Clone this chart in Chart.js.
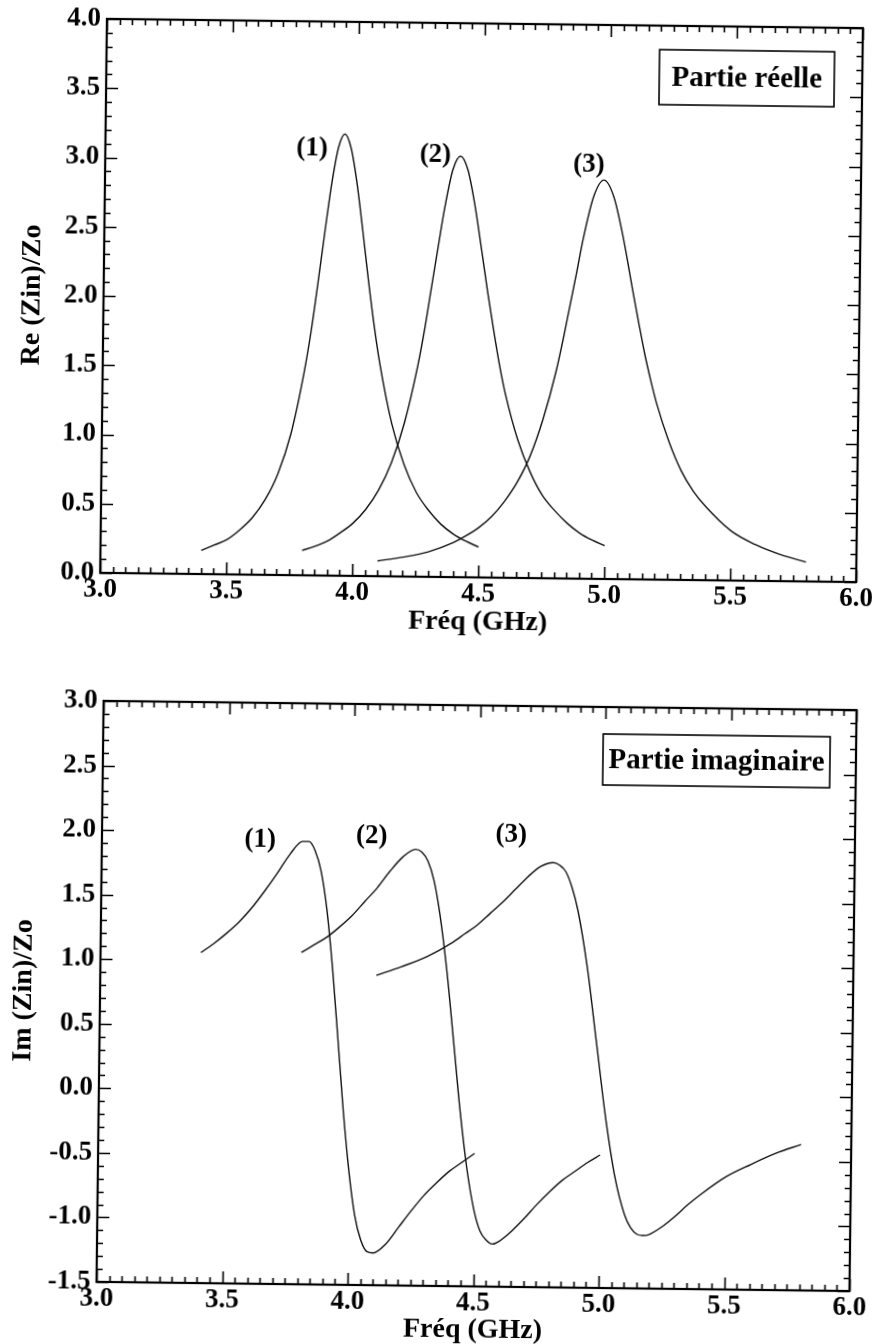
<!DOCTYPE html>
<html>
<head>
<meta charset="utf-8">
<script src="https://cdn.jsdelivr.net/npm/chart.js@4.4.1/dist/chart.umd.min.js"></script>
<style>
  html, body { margin: 0; padding: 0; background: #fff; }
  #page { position: relative; width: 882px; height: 1344px; transform: rotate(0.7deg); transform-origin: 441px 672px; }
  .box { position: absolute; left: 0; width: 882px; }
  #b1 { top: 0; height: 650px; }
  #b2 { top: 650px; height: 694px; }
</style>
</head>
<body>
<div id="page">
  <div class="box" id="b1"><canvas id="c1"></canvas></div>
  <div class="box" id="b2"><canvas id="c2"></canvas></div>
</div>
<script>
// ---------- data ----------
const freq1 = [3.40,3.45,3.50,3.55,3.60,3.65,3.70,3.75,3.80,3.825,3.85,3.875,3.90,3.925,3.95,3.975,4.00,4.025,4.05,4.075,4.10,4.15,4.20,4.25,4.30,4.35,4.40,4.45,4.50];
const re1   = [0.17,0.21,0.25,0.32,0.41,0.54,0.73,1.02,1.47,1.76,2.11,2.48,2.83,3.09,3.19,3.09,2.84,2.50,2.14,1.81,1.53,1.10,0.81,0.61,0.48,0.38,0.31,0.26,0.22];
const im1   = [1.06,1.13,1.21,1.30,1.41,1.54,1.68,1.83,1.93,1.93,1.86,1.70,1.40,0.95,0.40,-0.16,-0.62,-0.96,-1.15,-1.24,-1.25,-1.18,-1.05,-0.92,-0.80,-0.70,-0.61,-0.54,-0.47];

const freq2 = [3.80,3.85,3.90,3.95,4.00,4.05,4.10,4.15,4.20,4.25,4.275,4.30,4.325,4.35,4.38,4.41,4.44,4.47,4.50,4.525,4.55,4.575,4.60,4.65,4.70,4.75,4.80,4.85,4.90,4.95,5.00];
const re2   = [0.18,0.21,0.25,0.31,0.38,0.48,0.62,0.82,1.11,1.52,1.78,2.08,2.38,2.67,2.94,3.04,2.94,2.68,2.34,2.05,1.78,1.53,1.32,1.00,0.77,0.60,0.49,0.40,0.33,0.28,0.24];
const im2   = [1.07,1.13,1.19,1.27,1.36,1.47,1.58,1.71,1.82,1.88,1.86,1.79,1.64,1.38,0.95,0.41,-0.14,-0.59,-0.91,-1.07,-1.14,-1.17,-1.15,-1.07,-0.97,-0.86,-0.76,-0.67,-0.60,-0.53,-0.47];

const freq3 = [4.10,4.20,4.30,4.40,4.45,4.50,4.55,4.60,4.65,4.70,4.75,4.80,4.825,4.85,4.875,4.90,4.94,4.98,5.02,5.06,5.10,5.125,5.15,5.175,5.20,5.25,5.30,5.35,5.40,5.50,5.60,5.70,5.80];
const re3   = [0.11,0.14,0.18,0.25,0.30,0.36,0.44,0.55,0.69,0.88,1.15,1.50,1.72,1.96,2.20,2.45,2.76,2.88,2.76,2.46,2.08,1.85,1.63,1.44,1.27,1.00,0.79,0.64,0.53,0.36,0.26,0.19,0.14];
const im3   = [0.90,0.97,1.05,1.16,1.23,1.30,1.39,1.48,1.58,1.68,1.76,1.79,1.77,1.72,1.60,1.42,0.98,0.40,-0.18,-0.64,-0.93,-1.03,-1.08,-1.09,-1.08,-1.02,-0.94,-0.85,-0.77,-0.63,-0.53,-0.44,-0.37];

const curveNames = ['(1)', '(2)', '(3)'];
const reLabelPos = [[3.82, 3.08], [4.31, 3.05], [4.92, 2.99]];
const imLabelPos = [[3.63, 1.94], [4.075, 1.98], [4.63, 2.00]];

const xTicks   = [3.0, 3.5, 4.0, 4.5, 5.0, 5.5, 6.0];
const reTicks  = [0.0, 0.5, 1.0, 1.5, 2.0, 2.5, 3.0, 3.5, 4.0];
const imTicks  = [-1.5, -1.0, -0.5, 0.0, 0.5, 1.0, 1.5, 2.0, 2.5, 3.0];

const xTitle  = 'Fréq (GHz)';
const reTitle = 'Re (Zin)/Zo';
const imTitle = 'Im (Zin)/Zo';
const reBox   = 'Partie réelle';
const imBox   = 'Partie imaginaire';

// ---------- helpers ----------
const FONT = '"Liberation Serif", "Times New Roman", serif';
const pts = (xs, ys) => xs.map((x, i) => ({x: x, y: ys[i]}));

const innerTicks = {
  id: 'innerTicks',
  afterDraw(chart, args, o) {
    const {ctx, chartArea: a, scales: {x, y}} = chart;
    ctx.save();
    ctx.strokeStyle = '#000';
    ctx.lineWidth = 1.6;
    const isMajor = (v, step) => Math.abs(v / step - Math.round(v / step)) < 1e-6;
    const nx = Math.round((x.max - x.min) / o.xMinor);
    for (let i = 0; i <= nx; i++) {
      const v = x.min + i * o.xMinor;
      const px = Math.round(x.getPixelForValue(v)) + 0.5;
      const len = isMajor(v, o.xMajor) ? 12 : 6;
      ctx.beginPath();
      ctx.moveTo(px, a.bottom); ctx.lineTo(px, a.bottom - len);
      ctx.moveTo(px, a.top); ctx.lineTo(px, a.top + len);
      ctx.stroke();
    }
    const ny = Math.round((y.max - y.min) / o.yMinor);
    for (let i = 0; i <= ny; i++) {
      const v = y.min + i * o.yMinor;
      const py = Math.round(y.getPixelForValue(v)) + 0.5;
      const len = isMajor(v, o.yMajor) ? 12 : 6;
      ctx.beginPath();
      ctx.moveTo(a.left, py); ctx.lineTo(a.left + len, py);
      ctx.moveTo(a.right, py); ctx.lineTo(a.right - len, py);
      ctx.stroke();
    }
    ctx.lineWidth = 2.2;
    ctx.strokeRect(a.left, a.top, a.right - a.left, a.bottom - a.top);

    // curve labels
    ctx.fillStyle = '#000';
    ctx.font = 'bold 27px ' + FONT;
    ctx.textAlign = 'center';
    ctx.textBaseline = 'middle';
    o.labels.forEach((p, i) => {
      ctx.fillText(curveNames[i], x.getPixelForValue(p[0]), y.getPixelForValue(p[1]));
    });

    // framed caption
    ctx.font = 'bold 29px ' + FONT;
    const bx = a.right - o.boxRight - o.boxW;
    const by = a.top + o.boxTop;
    ctx.lineWidth = 1.6;
    ctx.strokeRect(bx, by, o.boxW, o.boxH);
    ctx.fillText(o.boxText, bx + o.boxW / 2, by + o.boxH / 2 + 1);
    ctx.restore();
  }
};

function makeChart(id, yTitle, ys, yMin, yMax, ticksY, labelPos, box, geo) {
  const ds = [
    {data: pts(freq1, ys[0])},
    {data: pts(freq2, ys[1])},
    {data: pts(freq3, ys[2])}
  ].map(d => Object.assign(d, {
    borderColor: '#111', borderWidth: 1.4, pointRadius: 0,
    cubicInterpolationMode: 'monotone', fill: false
  }));
  return new Chart(document.getElementById(id), {
    type: 'line',
    data: {datasets: ds},
    plugins: [innerTicks],
    options: {
      responsive: true, maintainAspectRatio: false, animation: false,
      layout: {padding: {left: 0, right: geo.padRight, top: geo.padTop, bottom: 0}},
      plugins: {
        legend: {display: false}, tooltip: {enabled: false},
        innerTicks: {xMinor: 0.05, xMajor: 0.5, yMinor: 0.1, yMajor: 0.5,
          labels: labelPos, boxText: box, boxW: geo.boxW, boxH: geo.boxH, boxTop: geo.boxTop, boxRight: geo.boxRight}
      },
      scales: {
        x: {
          type: 'linear', min: 3, max: 6,
          afterFit: s => { s.height = geo.xH; },
          afterBuildTicks: s => { s.ticks = xTicks.map(v => ({value: v})); },
          grid: {display: false, drawTicks: false},
          border: {display: false},
          ticks: {color: '#000', padding: 4, maxRotation: 0, autoSkip: false,
            font: {family: FONT, size: 27, weight: 'bold', lineHeight: 1},
            callback: v => v.toFixed(1)},
          title: {display: true, text: xTitle, color: '#000',
            font: {family: FONT, size: 28, weight: 'bold', lineHeight: 1},
            padding: {top: 0, bottom: geo.xTitlePad}}
        },
        y: {
          type: 'linear', min: yMin, max: yMax,
          afterFit: s => { s.width = geo.yW; },
          afterBuildTicks: s => { s.ticks = ticksY.map(v => ({value: v})); },
          grid: {display: false, drawTicks: false},
          border: {display: false},
          ticks: {color: '#000', padding: 6, autoSkip: false,
            font: {family: FONT, size: 27, weight: 'bold', lineHeight: 1},
            callback: v => v.toFixed(1)},
          title: {display: true, text: yTitle, color: '#000',
            font: {family: FONT, size: 28, weight: 'bold', lineHeight: 1},
            padding: {top: 14, bottom: 0}}
        }
      }
    }
  });
}

makeChart('c1', reTitle, [re1, re2, re3], 0, 4, reTicks, reLabelPos, reBox,
  {padRight: 27, padTop: 23, xH: 73, yW: 99, xTitlePad: 14, boxW: 175, boxH: 55, boxTop: 24, boxRight: 28});
makeChart('c2', imTitle, [im1, im2, im3], -1.5, 3, imTicks, imLabelPos, imBox,
  {padRight: 25, padTop: 55, xH: 58, yW: 104, xTitlePad: 0, boxW: 227, boxH: 51, boxTop: 27, boxRight: 26});
</script>
</body>
</html>
